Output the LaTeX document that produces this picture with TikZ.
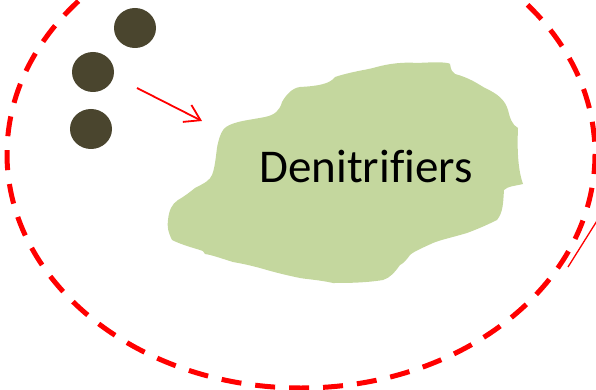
\documentclass[tikz,border=0pt]{standalone}
\usepackage{fontspec}
\setmainfont{Carlito}[Ligatures=NoCommon]
\usetikzlibrary{arrows.meta}
\definecolor{boundred}{RGB}{255,0,0}
\definecolor{cellbrown}{RGB}{74,69,46}
\definecolor{blobgreen}{RGB}{196,215,158}
\tikzset{
  boundary/.style={draw=boundred, line width=5pt, dash pattern=on 20pt off 14pt},
  particle/.style={fill=cellbrown, draw=none},
  flow/.style={draw=boundred, line width=1.8pt, -{Straight Barb[length=15pt,width=19pt,line width=1.8pt]}},
}
\begin{document}
\begin{tikzpicture}[x=1pt,y=-1pt]
\useasboundingbox (0,0) rectangle (596,390);
\begin{scope}
\clip (0,0) rectangle (596,390);
% dashed system boundary
\draw[boundary] (301,154) ellipse [x radius=294, y radius=234];
% line leaving at the right edge
\coordinate (lineA) at (568,267);
\coordinate (lineB) at (600,216);
\draw[boundred, line width=1.3pt] (lineA) -- (lineB);
\end{scope}
% denitrifier colony
\fill[blobgreen] (300,87) .. controls (318,86) and (330,84) .. (335,77)
  .. controls (350,72) and (365,70) .. (373,68)
  .. controls (390,63) and (405,62) .. (417,63)
  .. controls (435,62) and (448,62) .. (450,64)
  .. controls (451,70) and (452,72) .. (455,74)
  .. controls (470,78) and (478,84) .. (485,88)
  .. controls (498,94) and (505,100) .. (508,110)
  .. controls (510,118) and (512,125) .. (518,128)
  .. controls (517,150) and (518,170) .. (523,184)
  .. controls (515,186) and (508,186) .. (504,190)
  .. controls (503,205) and (503,212) .. (497,220)
  .. controls (485,226) and (475,230) .. (467,233)
  .. controls (450,238) and (440,240) .. (433,243)
  .. controls (422,248) and (413,252) .. (410,255)
  .. controls (405,262) and (402,264) .. (400,265)
  .. controls (395,272) and (390,278) .. (383,280)
  .. controls (365,283) and (345,283) .. (333,283)
  .. controls (320,280) and (305,279) .. (300,278)
  .. controls (285,275) and (270,271) .. (260,268)
  .. controls (245,264) and (238,263) .. (233,262)
  .. controls (220,258) and (212,255) .. (205,254)
  .. controls (203,251) and (202,250) .. (200,250)
  .. controls (190,247) and (180,244) .. (172,240)
  .. controls (168,232) and (167,226) .. (168,220)
  .. controls (169,210) and (172,204) .. (178,200)
  .. controls (185,196) and (190,192) .. (195,188)
  .. controls (205,183) and (210,180) .. (212,175)
  .. controls (216,165) and (216,150) .. (218,143)
  .. controls (220,135) and (222,130) .. (226,127)
  .. controls (235,121) and (250,120) .. (265,117)
  .. controls (275,115) and (280,110) .. (282,102)
  .. controls (286,95) and (292,88) .. (300,87) -- cycle;
\node (label) at (366,167) {\fontsize{47}{52}\selectfont Denitrifiers};
% particles
\fill[particle] (135,28) ellipse [x radius=21, y radius=20];
\fill[particle] (93,72) ellipse [x radius=21, y radius=20];
\fill[particle] (91,129) ellipse [x radius=21, y radius=20];
\coordinate (src) at (137,88);
\coordinate (dst) at (202,121);
\draw[flow] (src) -- (dst);
\end{tikzpicture}
\end{document}
